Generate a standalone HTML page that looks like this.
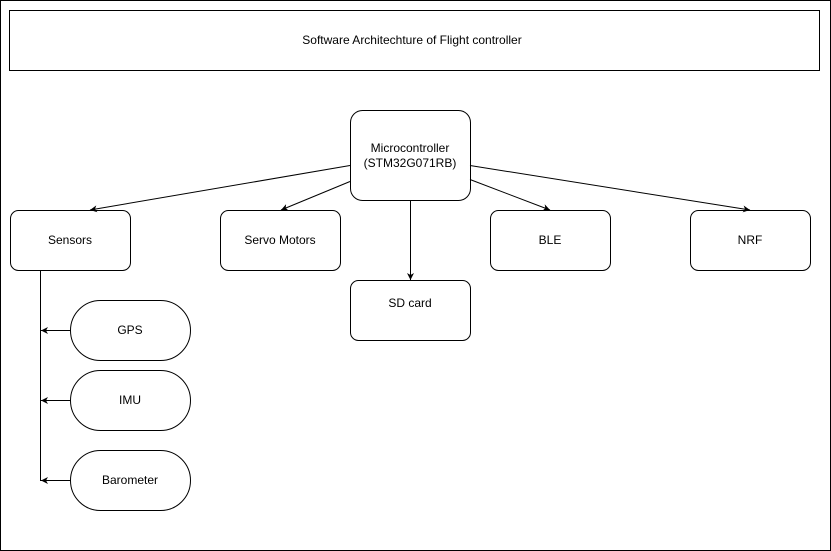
<!DOCTYPE html>
<html><head><meta charset="utf-8"><style>
html,body{margin:0;padding:0;background:#fff;}
svg{display:block;}
text{font-family:"Liberation Sans",sans-serif;font-size:12px;fill:#000;}
</style></head><body>
<svg width="831" height="551" viewBox="0 0 831 551" xmlns="http://www.w3.org/2000/svg">
<defs><marker id="a" markerWidth="8" markerHeight="8" refX="7" refY="4" orient="auto" markerUnits="userSpaceOnUse"><path d="M0,0.5 L7,4 L0,7.5 L2,4 Z" fill="#000"/></marker></defs>
<rect x="0.5" y="0.5" width="830" height="550" fill="#fff" stroke="#000"/>
<rect x="9.5" y="10.5" width="810" height="60" fill="#fff" stroke="#000"/>
<text x="412" y="44" text-anchor="middle">Software Architechture of Flight controller</text>
<g fill="#fff" stroke="#000">
<rect x="350.5" y="110.5" width="120" height="90" rx="12"/>
<rect x="10.5" y="210.5" width="120" height="60" rx="8"/>
<rect x="220.5" y="210.5" width="120" height="60" rx="8"/>
<rect x="490.5" y="210.5" width="120" height="60" rx="8"/>
<rect x="690.5" y="210.5" width="120" height="60" rx="8"/>
<rect x="350.5" y="280.5" width="120" height="60" rx="8"/>
<rect x="70.5" y="300.5" width="120" height="60" rx="30"/>
<rect x="70.5" y="370.5" width="120" height="60" rx="30"/>
<rect x="70.5" y="450.5" width="120" height="60" rx="30"/>
</g>
<g stroke="#000" fill="none" marker-end="url(#a)">
<line x1="350" y1="165.5" x2="90" y2="210"/>
<line x1="350" y1="181.5" x2="281" y2="210"/>
<line x1="410.5" y1="200" x2="410.5" y2="280"/>
<line x1="470" y1="179.5" x2="550" y2="210"/>
<line x1="470" y1="165.5" x2="750" y2="210"/>
<line x1="70" y1="330.5" x2="41" y2="330.5"/>
<line x1="70" y1="400.5" x2="41" y2="400.5"/>
<line x1="70" y1="480.5" x2="41" y2="480.5"/>
</g>
<line x1="40.5" y1="270" x2="40.5" y2="481" stroke="#000"/>
<text x="410" y="152" text-anchor="middle">Microcontroller</text>
<text x="410" y="167" text-anchor="middle">(STM32G071RB)</text>
<text x="70" y="244" text-anchor="middle">Sensors</text>
<text x="280" y="244" text-anchor="middle">Servo Motors</text>
<text x="550" y="244" text-anchor="middle">BLE</text>
<text x="750" y="244" text-anchor="middle">NRF</text>
<text x="410" y="307" text-anchor="middle">SD card</text>
<text x="130" y="334" text-anchor="middle">GPS</text>
<text x="130" y="404" text-anchor="middle">IMU</text>
<text x="130" y="484" text-anchor="middle">Barometer</text>
</svg>
</body></html>
